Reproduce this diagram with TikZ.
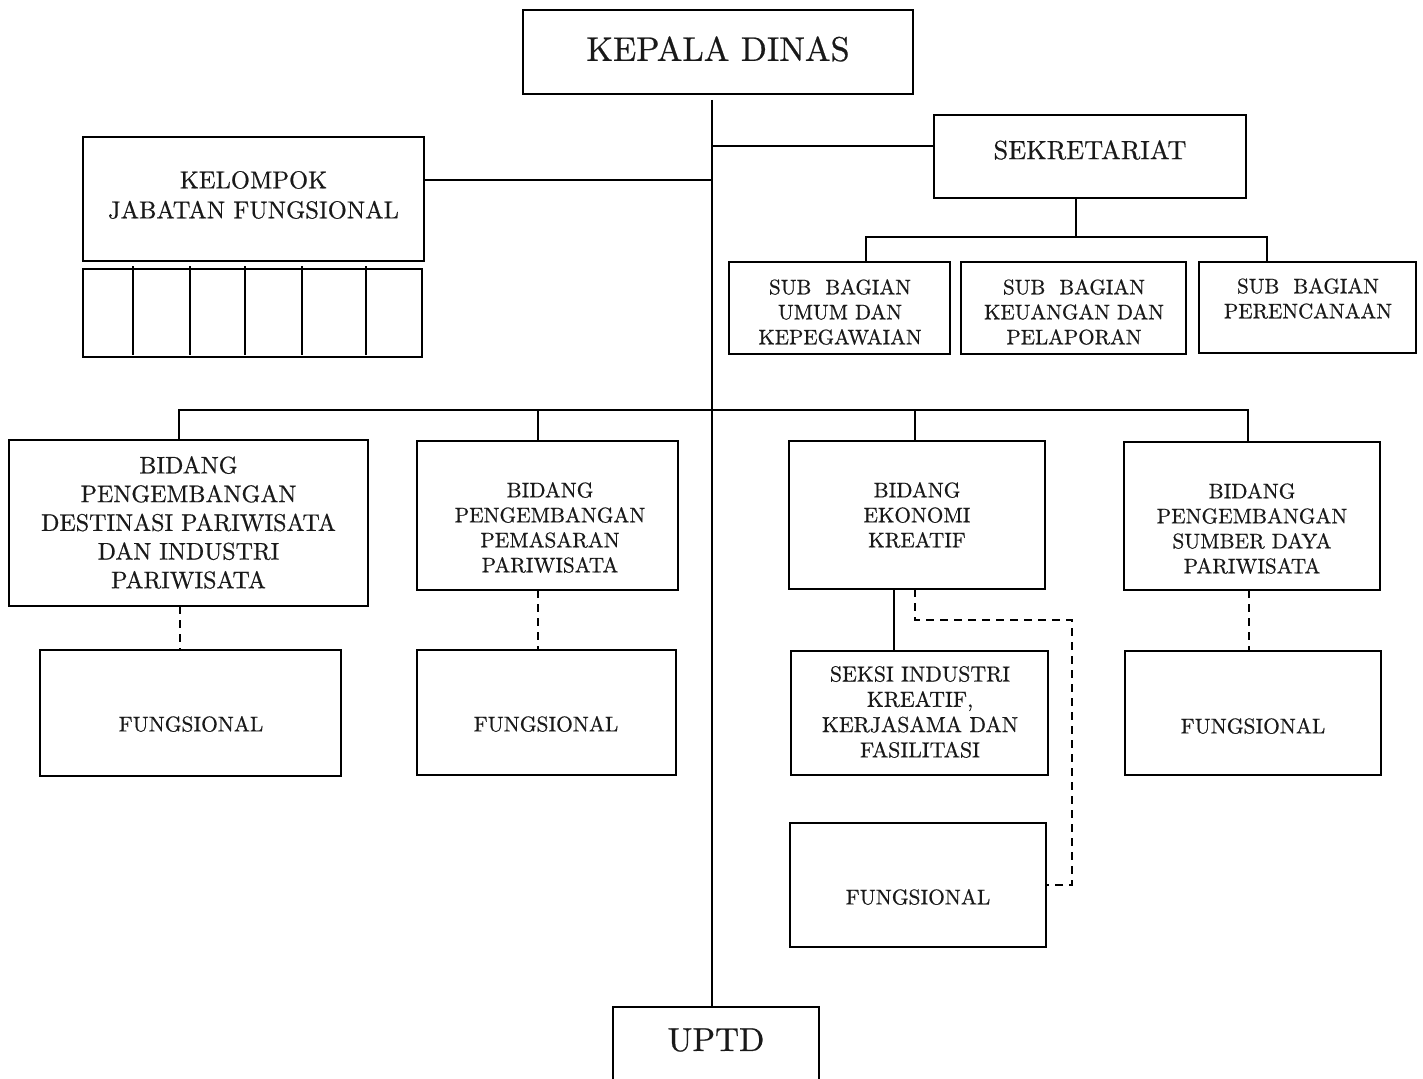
\documentclass[tikz,border=0pt]{standalone}
\usepackage{fontspec}
\setmainfont{lmroman10-regular.otf}[FakeBold=0.6]
\begin{document}
\begin{tikzpicture}[x=1pt,y=-1pt,
  box/.style={draw, line width=1.8pt, inner sep=0pt, outer sep=0pt},
  txt/.style={align=center, inner sep=0pt, text=black!90},
  ln/.style={line width=1.8pt},
  dsh/.style={line width=1.6pt, dash pattern=on 8pt off 6pt}]
\useasboundingbox[fill=white] (0,0) rectangle (1423,1078);
% top
\node[box, minimum width=390, minimum height=84] (kd) at (718,52) {};
\node[txt, font=\fontsize{34.2}{40}\selectfont] (kdt) at (718,49) {KEPALA DINAS};
\node[box, minimum width=312, minimum height=83] (sek) at (1090,156.5) {};
\node[txt, font=\fontsize{26.4}{32}\selectfont] (sekt) at (1090,150) {SEKRETARIAT};
\node[box, minimum width=341, minimum height=124] (kel) at (253.5,199) {};
\node[txt, font=\fontsize{24.5}{30}\selectfont] (kelt) at (253.5,195) {KELOMPOK\\JABATAN FUNGSIONAL};
\node[box, minimum width=339, minimum height=88] (grid) at (252.5,313) {};
\foreach \gx in {133,190,245,302,366} \draw[ln] (\gx,266) -- (\gx,355);
% sub bagian
\node[box, minimum width=221, minimum height=92] (sub1) at (839.5,308) {};
\node[txt, font=\fontsize{21}{25}\selectfont] (sub1t) at (840,312) {SUB~~BAGIAN\\UMUM DAN\\KEPEGAWAIAN};
\node[box, minimum width=225, minimum height=92] (sub2) at (1073.5,308) {};
\node[txt, font=\fontsize{21}{25}\selectfont] (sub2t) at (1074,312) {SUB~~BAGIAN\\KEUANGAN DAN\\PELAPORAN};
\node[box, minimum width=217, minimum height=91] (sub3) at (1307.5,307.5) {};
\node[txt, font=\fontsize{21}{25}\selectfont] (sub3t) at (1308,298.5) {SUB~~BAGIAN\\PERENCANAAN};
% bidang
\node[box, minimum width=359, minimum height=166] (b1) at (188.5,523) {};
\node[txt, font=\fontsize{24}{28.7}\selectfont] (b1t) at (188.5,522.5) {BIDANG\\PENGEMBANGAN\\DESTINASI PARIWISATA\\DAN INDUSTRI\\PARIWISATA};
\node[box, minimum width=261, minimum height=149] (b2) at (547.5,515.5) {};
\node[txt, font=\fontsize{21.2}{25}\selectfont] (b2t) at (550,527.5) {BIDANG\\PENGEMBANGAN\\PEMASARAN\\PARIWISATA};
\node[box, minimum width=256, minimum height=148] (b3) at (917,515) {};
\node[txt, font=\fontsize{21.2}{25}\selectfont] (b3t) at (917,515) {BIDANG\\EKONOMI\\KREATIF};
\node[box, minimum width=256, minimum height=148] (b4) at (1252,516) {};
\node[txt, font=\fontsize{21.2}{25}\selectfont] (b4t) at (1252,528.5) {BIDANG\\PENGEMBANGAN\\SUMBER DAYA\\PARIWISATA};
% lower boxes
\node[box, minimum width=301, minimum height=126] (f1) at (190.5,713) {};
\node[txt, font=\fontsize{21.4}{25}\selectfont] (f1t) at (191,724) {FUNGSIONAL};
\node[box, minimum width=259, minimum height=125] (f2) at (546.5,712.5) {};
\node[txt, font=\fontsize{21.4}{25}\selectfont] (f2t) at (546,724) {FUNGSIONAL};
\node[box, minimum width=257, minimum height=124] (sk) at (919.5,713) {};
\node[txt, font=\fontsize{21.8}{25.3}\selectfont] (skt) at (920,712) {SEKSI INDUSTRI\\KREATIF,\\KERJASAMA DAN\\FASILITASI};
\node[box, minimum width=256, minimum height=124] (f3) at (918,885) {};
\node[txt, font=\fontsize{21.4}{25}\selectfont] (f3t) at (918,897) {FUNGSIONAL};
\node[box, minimum width=256, minimum height=124] (f4) at (1253,713) {};
\node[txt, font=\fontsize{21.4}{25}\selectfont] (f4t) at (1253,726) {FUNGSIONAL};
\node[box, minimum width=206, minimum height=100] (uptd) at (716,1057) {};
\node[txt, font=\fontsize{33.2}{40}\selectfont] (uptdt) at (716,1040) {UPTD};
% coordinates
\coordinate (spine) at (712,100);
\coordinate (sekj) at ([yshift=10.5pt]sek.west);
\coordinate (kelj) at ([yshift=19pt]kel.east);
\coordinate (sekd) at ([xshift=-14pt]sek.south);
\coordinate (subbar) at (1076,237);
\coordinate (s1d) at ([xshift=26.5pt]sub1.north);
\coordinate (s3d) at ([xshift=-40.5pt]sub3.north);
\coordinate (bbar) at (712,410);
\coordinate (b1d) at ([xshift=-9.5pt]b1.north);
\coordinate (b2d) at ([xshift=-9.5pt]b2.north);
\coordinate (b3d) at ([xshift=-2pt]b3.north);
\coordinate (b4d) at ([xshift=-4pt]b4.north);
\coordinate (b1s) at ([xshift=-8.5pt]b1.south);
\coordinate (b2s) at ([xshift=-9.5pt]b2.south);
\coordinate (b3s) at ([xshift=-23pt]b3.south);
\coordinate (b3q) at ([xshift=-2pt]b3.south);
\coordinate (b4s) at ([xshift=-3pt]b4.south);
\coordinate (dr) at (1072,620);
% connectors
\draw[ln] (spine) -- (spine |- uptd.north);
\draw[ln] (sekj) -- (sekj -| spine);
\draw[ln] (kelj) -- (kelj -| spine);
\draw[ln] (sekd) -- (subbar);
\draw[ln] (s1d) |- (subbar) -| (s3d);
\draw[ln] (b1d) |- (bbar) -| (b4d);
\draw[ln] (b2d) -- (b2d |- bbar);
\draw[ln] (b3d) -- (b3d |- bbar);
\draw[ln] (b3s) -- (b3s |- sk.north);
\draw[dsh] (b1s) -- (b1s |- f1.north);
\draw[dsh] (b2s) -- (b2s |- f2.north);
\draw[dsh] (b4s) -- (b4s |- f4.north);
\draw[dsh] (b3q) |- (dr) |- (f3.east);
\end{tikzpicture}
\end{document}
